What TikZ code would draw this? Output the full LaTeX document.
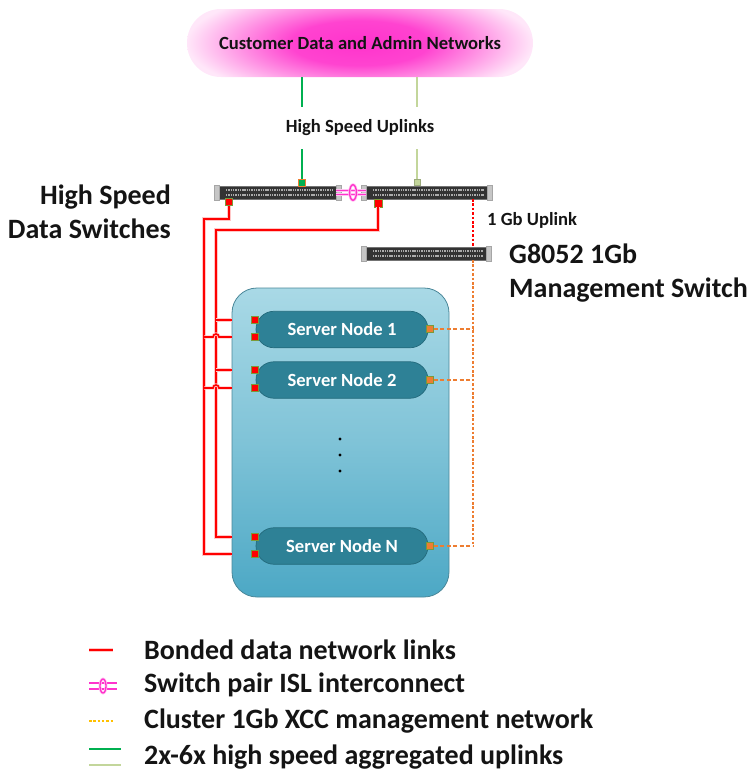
\documentclass[tikz,border=0pt]{standalone}
\usepackage{fontspec}
\setmainfont{Carlito}
\usetikzlibrary{calc}

\definecolor{cpk}{HTML}{FF33CC}
\definecolor{upg}{HTML}{00B050}
\definecolor{uplt}{HTML}{C3D69B}
\definecolor{mgo}{HTML}{ED7D31}
\definecolor{legy}{HTML}{FFC000}
\definecolor{srvfill}{HTML}{2E8196}
\definecolor{srvedge}{HTML}{236A7C}
\definecolor{boxtop}{HTML}{A9D9E6}
\definecolor{boxbot}{HTML}{4CA8C5}
\definecolor{boxedge}{HTML}{4A8799}
\definecolor{portedge}{HTML}{7A9A3A}

\pgfdeclareradialshading{pinkglow}{\pgfpoint{0bp}{0bp}}{%
  color(0bp)=(cpk); color(10bp)=(cpk!92!white); color(17bp)=(cpk!55!white);
  color(25bp)=(cpk!12!white); color(50bp)=(cpk!6!white)}

\newcommand\bigfs{\fontsize{28}{34}\selectfont}
\newcommand\midfs{\fontsize{18.6}{22}\selectfont}

\tikzset{
  cloudbox/.style={minimum width=346pt, minimum height=68pt, rounded corners=33.9pt, inner sep=0pt,
    path picture={\shade[shading=pinkglow]
      ([yshift=-22pt]path picture bounding box.south west) rectangle
      ([yshift=22pt]path picture bounding box.north east);}},
  swbody/.style={fill=black!80, draw=black!55, line width=0.5pt, minimum height=12.5pt, inner sep=0pt,
    path picture={
      \foreach \dy in {2.6,-2.6}
        \draw[gray!65, line width=1.3pt, dash pattern=on 1.4pt off 0.9pt]
          ([shift={(7pt,\dy pt)}]path picture bounding box.west) --
          ([shift={(-3pt,\dy pt)}]path picture bounding box.east);}},
  ear/.style={fill=gray!45, draw=gray!70, line width=0.4pt},
  srv/.style={fill=srvfill, draw=srvedge, line width=0.7pt, minimum width=172pt, minimum height=36.5pt,
    rounded corners=18pt, inner sep=0pt, text=white, font=\midfs\bfseries},
  dport/.style={fill=red, draw=portedge, line width=0.6pt, minimum size=6.5pt, inner sep=0pt},
  mport/.style={fill=mgo, draw=portedge, line width=0.6pt, minimum size=6.5pt, inner sep=0pt},
  dlink/.style={red, line width=1.6pt, preaction={draw=red!22, line width=3.2pt}},
  mlink/.style={mgo, line width=1.6pt, dash pattern=on 4pt off 2.5pt},
  mvert/.style={mgo, line width=1.6pt, dash pattern=on 2.6pt off 1.8pt},
  uplink/.style={line width=1.8pt},
  isl/.style={cpk, line width=1.3pt, preaction={draw=cpk!30, line width=2.8pt}},
  lbl/.style={inner sep=0pt, text=black!92, font=\bfseries},
}

\begin{document}
\begin{tikzpicture}[x=1pt, y=-1pt]
\useasboundingbox (0,0) rectangle (749,771);

% external networks
\node[cloudbox] (cloud) at (360,43) {};
\node[lbl, font=\midfs\bfseries] (cloudtxt) at (360,43) {Customer Data and Admin Networks};
\node[lbl, font=\midfs\bfseries, inner ysep=13pt] (hsu) at (360,128) {High Speed Uplinks};

% data switch pair
\node[swbody, minimum width=117pt] (swA) at (277.5,192.5) {};
\node[swbody, minimum width=121pt] (swB) at (426.5,192.5) {};
% management switch
\node[swbody, minimum width=120pt] (swM) at (426,253.5) {};
\foreach \s in {swA,swB,swM}{
  \draw[ear] ([yshift=0.8pt]\s.north west) rectangle ([shift={(-5pt,-0.8pt)}]\s.south west);
  \draw[ear] ([yshift=0.8pt]\s.north east) rectangle ([shift={(5pt,-0.8pt)}]\s.south east);
}

% ISL between the data switches
\draw[isl] ([yshift=2pt]swA.east) -- ([yshift=2pt]swB.west);
\draw[isl] ([yshift=-2pt]swA.east) -- ([yshift=-2pt]swB.west);
\draw[isl] (353,192.5) ellipse[x radius=3.4, y radius=7.8];

% uplink ports
\node[fill=upg, draw=mgo, line width=0.6pt, minimum size=6.5pt, inner sep=0pt] (upA) at (302,183) {};
\node[fill=uplt, draw=uplt!80!black, line width=0.4pt, minimum size=6.5pt, inner sep=0pt] (upB) at (417,182) {};
\draw[uplink, upg] (upA |- cloud.south) -- (upA |- hsu.north);
\draw[uplink, upg] (upA |- hsu.south) -- (upA.north);
\draw[uplink, uplt] (upB |- cloud.south) -- (upB |- hsu.north);
\draw[uplink, uplt] (upB |- hsu.south) -- (upB.north);

% data ports under the switches
\node[dport] (pA) at (229,202) {};
\node[dport, minimum size=8pt] (pB) at (378,203) {};

% 1Gb uplink
\coordinate (mx) at (473,0);
\draw[red, line width=1.6pt, dash pattern=on 2.6pt off 1.8pt] (swB.south -| mx) -- (swM.north -| mx);
\node[lbl, font=\midfs\bfseries, anchor=west] (gbl) at (487,220) {1 Gb Uplink};

% labels
\node[lbl, font=\bigfs\bfseries, align=right, anchor=east] (hsl) at (171,212) {High Speed\\Data Switches};
\node[lbl, font=\bigfs\bfseries, align=left, anchor=west] (mgl) at (509,273) {G8052 1Gb\\Management Switch};

% server enclosure
\shade[top color=boxtop, bottom color=boxbot, middle color=boxtop!55!boxbot, rounded corners=25pt]
  (232,288) rectangle (449,597);
\draw[boxedge, line width=0.8pt, rounded corners=25pt] (232,288) rectangle (449,597);
\node[inner sep=0pt, minimum width=217pt, minimum height=309pt] (box) at (340.5,442.5) {};

\node[srv] (s1) at (342,329.5) {Server Node 1};
\node[srv] (s2) at (342,380) {Server Node 2};
\node[srv] (s3) at (342,546) {Server Node N};
\foreach \y in {439,455,471} \fill (340,\y) circle[radius=1.7];

% server data ports
\node[dport] (p1a) at (255,320) {};
\node[dport] (p1b) at (255,337) {};
\node[dport] (p2a) at (255,370) {};
\node[dport] (p2b) at (255,388) {};
\node[dport] (p3a) at (255,537) {};
\node[dport] (p3b) at (255,554) {};
% server management ports
\node[mport] (m1) at (430,329) {};
\node[mport] (m2) at (430,380) {};
\node[mport] (m3) at (430,546) {};

% bonded data links
\coordinate (oT) at (204,219);
\coordinate (iT) at (216,230);
\draw[dlink] (pA.south) |- (oT) -- (oT |- p3b) -- (p3b -| box.west);
\draw[dlink] (pB.south) |- (iT) -- (iT |- p3a) -- (p3a -| box.west);
\draw[dlink] (iT |- p1a) -- (p1a -| box.west);
\draw[dlink] (iT |- p2a) -- (p2a -| box.west);
\draw[dlink] (oT |- p1b) -- ([xshift=-3pt]iT |- p1b) arc[start angle=180, end angle=360, radius=3] -- (p1b -| box.west);
\draw[dlink] (oT |- p2b) -- ([xshift=-3pt]iT |- p2b) arc[start angle=180, end angle=360, radius=3] -- (p2b -| box.west);

% management network
\draw[mvert] (swM.south -| mx) -- (mx |- m3);
\draw[mlink] (m1.east) -- (m1 -| mx);
\draw[mlink] (m2.east) -- (m2 -| mx);
\draw[mlink] (m3.east) -- (m3 -| mx);

% legend
\draw[dlink] (89,650) -- (113,650);
\node[lbl, font=\bigfs\bfseries, anchor=west] (lg1) at (144,650) {Bonded data network links};
\draw[isl] (89,683) -- (117,683);
\draw[isl] (89,689) -- (117,689);
\draw[isl] (103,686) ellipse[x radius=3, y radius=7];
\node[lbl, font=\bigfs\bfseries, anchor=west] (lg2) at (144,685) {Switch pair ISL interconnect};
\draw[legy, line width=1.4pt, dash pattern=on 2.5pt off 1.8pt] (89,721) -- (113,721);
\node[lbl, font=\bigfs\bfseries, anchor=west] (lg3) at (144,721) {Cluster 1Gb XCC management network};
\draw[upg, line width=2pt] (89,749) -- (121,749);
\draw[uplt, line width=2pt] (89,765) -- (121,765);
\node[lbl, font=\bigfs\bfseries, anchor=west] (lg4) at (144,757) {2x-6x high speed aggregated uplinks};
\end{tikzpicture}
\end{document}
